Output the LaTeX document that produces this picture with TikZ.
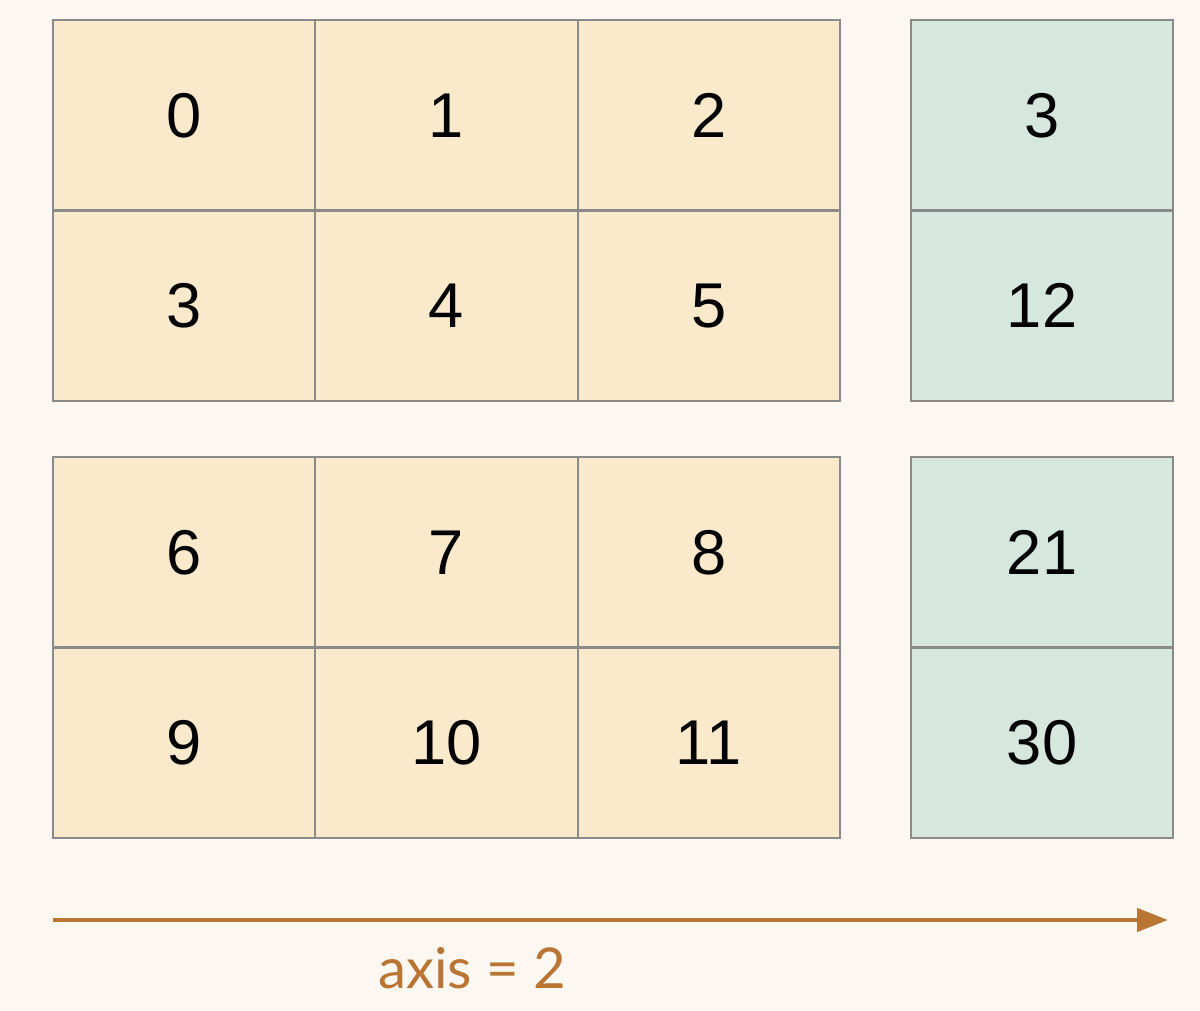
\documentclass[tikz,border=0pt]{standalone}
\usepackage{fontspec}
\setmainfont{Liberation Sans}
\newfontfamily\labelfont{Lato}
\usepackage{xcolor}
\usetikzlibrary{positioning,arrows.meta}
\definecolor{cream50}{HTML}{FCF8F1}
\definecolor{amber100}{HTML}{FAEACB}
\definecolor{green100}{HTML}{D6E7DE}
\definecolor{gray500}{HTML}{8A8A8A}
\definecolor{copper500}{HTML}{BA7535}
\tikzset{
  every node/.style={font=\fontsize{18}{20}\selectfont},
  cell/.style={
    rectangle, draw=gray500, fill=amber100, line width=0.6pt,
    minimum width=2.623cm, minimum height=1.905cm,
    inner sep=0pt, outer sep=0pt
  },
  sumcell/.style={cell, fill=green100},
  axisarrow/.style={
    -{Triangle[length=3.1mm,width=2.3mm]},
    line width=1.3pt, draw=copper500
  },
}
\begin{document}
\begin{tikzpicture}
  \fill[cream50] (0,0) rectangle (12,-10.11);
  \useasboundingbox (0,0) rectangle (12,-10.11);
  % input blocks
  \foreach \b in {0,1}
    \foreach \r in {0,1}
      \foreach \c in {0,1,2} {
        \pgfmathtruncatemacro{\n}{\b*6+\r*3+\c}
        \pgfmathsetmacro{\px}{0.53+2.623*(\c+0.5)}
        \pgfmathsetmacro{\py}{-(0.20+4.37*\b+1.905*(\r+0.5))}
        \node[cell] (c\n) at (\px,\py) {\n};
      }
  % sums along the last axis
  \foreach \i/\s in {0/3,1/12,2/21,3/30} {
    \pgfmathtruncatemacro{\b}{int(\i/2)}
    \pgfmathtruncatemacro{\r}{mod(\i,2)}
    \pgfmathsetmacro{\py}{-(0.20+4.37*\b+1.905*(\r+0.5))}
    \node[sumcell] (sum\i) at (10.421,\py) {\s};
  }
  \coordinate (axisstart) at (0.53,-9.2);
  \coordinate (axisend) at (11.68,-9.2);
  \draw[axisarrow] (axisstart) -- (axisend);
  \node[font=\labelfont\fontsize{16}{18}\selectfont, color=copper500] (axislabel) at (4.72,-9.68) {axis = 2};
\end{tikzpicture}
\end{document}
